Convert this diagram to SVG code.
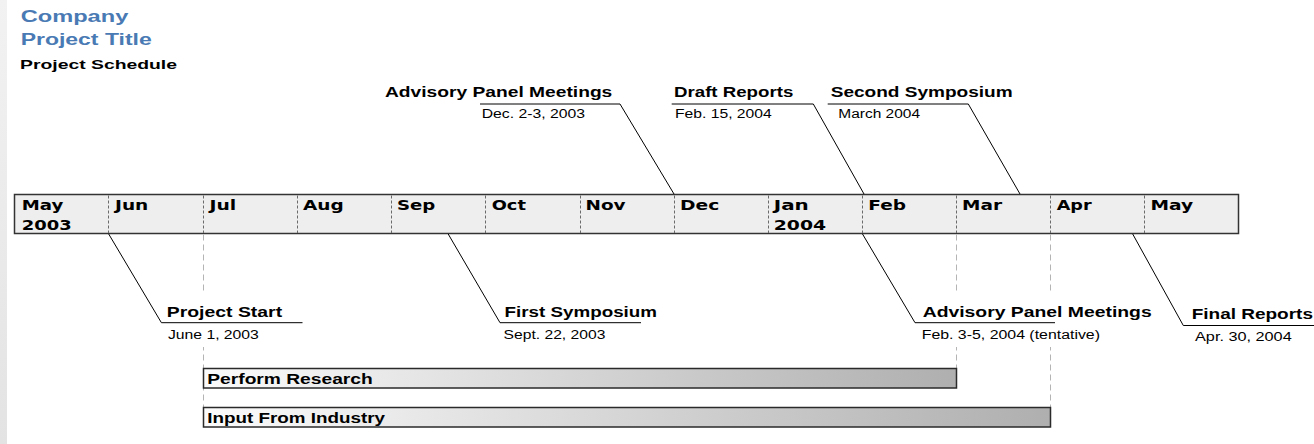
<svg xmlns="http://www.w3.org/2000/svg" width="1314" height="444" viewBox="0 0 1314 444">
<defs>
  <linearGradient id="taskGrad" x1="0" y1="0" x2="1" y2="0">
    <stop offset="0" stop-color="#fbfbfb"/>
    <stop offset="1" stop-color="#afafaf"/>
  </linearGradient>
  <linearGradient id="edgeGrad" x1="0" y1="0" x2="0" y2="1">
    <stop offset="0" stop-color="#f2f2f2"/>
    <stop offset="1" stop-color="#e3e3e3"/>
  </linearGradient>
</defs>
<style>
  .head{font-family:"Liberation Sans",Arial,sans-serif;font-weight:bold;font-size:16px;fill:#4a7ab4}
  .sub{font-family:"Liberation Sans",Arial,sans-serif;font-weight:bold;font-size:13px;fill:#000}
  .month{font-family:"DejaVu Sans",Verdana,sans-serif;font-weight:bold;font-size:13.5px;fill:#000}
  .mtitle{font-family:"Liberation Sans",Arial,sans-serif;font-weight:bold;font-size:15px;fill:#000}
  .mdate{font-family:"Liberation Sans",Arial,sans-serif;font-size:12px;fill:#000}
  .tlabel{font-family:"Liberation Sans",Arial,sans-serif;font-weight:bold;font-size:14px;fill:#000}
  .lead{fill:none;stroke:#000;stroke-width:1}
  .guide{fill:none;stroke:#b4b4b4;stroke-width:1;stroke-dasharray:6 4}
  .div{fill:none;stroke:#6a6a6a;stroke-width:1;stroke-dasharray:3 2}
  .task{fill:url(#taskGrad);stroke:#2a2a2a;stroke-width:1.5}
  .bar{fill:#eeeeee;stroke:#333;stroke-width:1.5}
  .mask{fill:#fff}
</style>

<rect x="0" y="0" width="1314" height="444" fill="#fff"/>
<rect x="0" y="0" width="7" height="444" fill="url(#edgeGrad)"/>

<g id="header">
  <text class="head" x="20.7" y="22" textLength="107.6" lengthAdjust="spacingAndGlyphs">Company</text>
  <text class="head" x="20.7" y="45" textLength="131" lengthAdjust="spacingAndGlyphs">Project Title</text>
  <text class="sub" x="20" y="69" textLength="157" lengthAdjust="spacingAndGlyphs">Project Schedule</text>
</g>

<g id="timeline">
  <rect class="bar" x="14.5" y="194.5" width="1224" height="39"/>
  <g class="dividers">
    <line class="div" x1="108.5" y1="195.5" x2="108.5" y2="233"/>
    <line class="div" x1="203.5" y1="195.5" x2="203.5" y2="233"/>
    <line class="div" x1="297.5" y1="195.5" x2="297.5" y2="233"/>
    <line class="div" x1="391.5" y1="195.5" x2="391.5" y2="233"/>
    <line class="div" x1="485.5" y1="195.5" x2="485.5" y2="233"/>
    <line class="div" x1="580.5" y1="195.5" x2="580.5" y2="233"/>
    <line class="div" x1="674.5" y1="195.5" x2="674.5" y2="233"/>
    <line class="div" x1="768.5" y1="195.5" x2="768.5" y2="233"/>
    <line class="div" x1="862.5" y1="195.5" x2="862.5" y2="233"/>
    <line class="div" x1="956.5" y1="195.5" x2="956.5" y2="233"/>
    <line class="div" x1="1050.5" y1="195.5" x2="1050.5" y2="233"/>
    <line class="div" x1="1144.5" y1="195.5" x2="1144.5" y2="233"/>
  </g>
  <g class="months">
    <text class="month" x="21.7" y="210" textLength="41.6" lengthAdjust="spacingAndGlyphs">May</text>
    <text class="month" x="21.7" y="229.5" textLength="50" lengthAdjust="spacingAndGlyphs">2003</text>
    <text class="month" x="115" y="210" textLength="33.3" lengthAdjust="spacingAndGlyphs">Jun</text>
    <text class="month" x="209.5" y="210" textLength="26.7" lengthAdjust="spacingAndGlyphs">Jul</text>
    <text class="month" x="303" y="210" textLength="40.7" lengthAdjust="spacingAndGlyphs">Aug</text>
    <text class="month" x="397" y="210" textLength="38.3" lengthAdjust="spacingAndGlyphs">Sep</text>
    <text class="month" x="491.7" y="210" textLength="34.3" lengthAdjust="spacingAndGlyphs">Oct</text>
    <text class="month" x="585.5" y="210" textLength="40" lengthAdjust="spacingAndGlyphs">Nov</text>
    <text class="month" x="680" y="210" textLength="39.3" lengthAdjust="spacingAndGlyphs">Dec</text>
    <text class="month" x="773.8" y="210" textLength="35" lengthAdjust="spacingAndGlyphs">Jan</text>
    <text class="month" x="773.8" y="229.5" textLength="52.3" lengthAdjust="spacingAndGlyphs">2004</text>
    <text class="month" x="868.3" y="210" textLength="37.7" lengthAdjust="spacingAndGlyphs">Feb</text>
    <text class="month" x="962" y="210" textLength="40" lengthAdjust="spacingAndGlyphs">Mar</text>
    <text class="month" x="1056.7" y="210" textLength="35" lengthAdjust="spacingAndGlyphs">Apr</text>
    <text class="month" x="1150.5" y="210" textLength="42.7" lengthAdjust="spacingAndGlyphs">May</text>
  </g>
</g>

<g id="guides">
  <line class="guide" x1="203.5" y1="234.5" x2="203.5" y2="407.5"/>
  <line class="guide" x1="956.5" y1="234.5" x2="956.5" y2="368.5"/>
  <line class="guide" x1="1050.5" y1="234.5" x2="1050.5" y2="407.5"/>
</g>

<g id="ms-advisory-dec">
  <text class="mtitle" x="385" y="97" textLength="227.3" lengthAdjust="spacingAndGlyphs">Advisory Panel Meetings</text>
  <text class="mdate" x="481.7" y="118" textLength="103.3" lengthAdjust="spacingAndGlyphs">Dec. 2-3, 2003</text>
</g>
<g id="ms-draft-reports">
  <text class="mtitle" x="674" y="97" textLength="119.3" lengthAdjust="spacingAndGlyphs">Draft Reports</text>
  <text class="mdate" x="675" y="118" textLength="96.7" lengthAdjust="spacingAndGlyphs">Feb. 15, 2004</text>
</g>
<g id="ms-second-symposium">
  <text class="mtitle" x="830.7" y="97" textLength="182" lengthAdjust="spacingAndGlyphs">Second Symposium</text>
  <text class="mdate" x="838.3" y="118" textLength="81.7" lengthAdjust="spacingAndGlyphs">March 2004</text>
</g>
<g id="ms-project-start">
  <rect class="mask" x="162" y="292" width="141" height="55"/>
  <text class="mtitle" x="166.8" y="316.5" textLength="115.3" lengthAdjust="spacingAndGlyphs">Project Start</text>
  <text class="mdate" x="167.9" y="338.5" textLength="91" lengthAdjust="spacingAndGlyphs">June 1, 2003</text>
</g>
<g id="ms-first-symposium">
  <text class="mtitle" x="504.6" y="316.5" textLength="152.4" lengthAdjust="spacingAndGlyphs">First Symposium</text>
  <text class="mdate" x="503.6" y="338.5" textLength="101.8" lengthAdjust="spacingAndGlyphs">Sept. 22, 2003</text>
</g>
<g id="ms-advisory-feb">
  <rect class="mask" x="916" y="292" width="240" height="55"/>
  <text class="mtitle" x="922.7" y="316.5" textLength="229" lengthAdjust="spacingAndGlyphs">Advisory Panel Meetings</text>
  <text class="mdate" x="921.7" y="338.5" textLength="178.3" lengthAdjust="spacingAndGlyphs">Feb. 3-5, 2004 (tentative)</text>
</g>
<g id="ms-final-reports">
  <text class="mtitle" x="1191.7" y="318.5" textLength="121.3" lengthAdjust="spacingAndGlyphs">Final Reports</text>
  <text class="mdate" x="1195" y="340.5" textLength="96.7" lengthAdjust="spacingAndGlyphs">Apr. 30, 2004</text>
</g>

<g id="connectors">
  <polyline class="lead" points="480,104 620,104 674,194"/>
  <polyline class="lead" points="671.7,104 813.3,104 864,194"/>
  <polyline class="lead" points="827.7,104 968.3,104 1020,194"/>
  <polyline class="lead" points="108.7,234 161.4,322.7 302.5,322.7"/>
  <polyline class="lead" points="448.2,234 500,322.7 641,322.7"/>
  <polyline class="lead" points="862.5,234 915,322.7 1055,322.7"/>
  <polyline class="lead" points="1132.7,234 1183.3,325.5 1324,325.5"/>
</g>

<g id="task-perform-research">
  <rect class="task" x="203.5" y="368.5" width="753" height="19.5"/>
  <text class="tlabel" x="207.3" y="384" textLength="165.4" lengthAdjust="spacingAndGlyphs">Perform Research</text>
</g>
<g id="task-input-industry">
  <rect class="task" x="203.5" y="407.5" width="847" height="19.5"/>
  <text class="tlabel" x="207.3" y="423" textLength="177.7" lengthAdjust="spacingAndGlyphs">Input From Industry</text>
</g>
</svg>
